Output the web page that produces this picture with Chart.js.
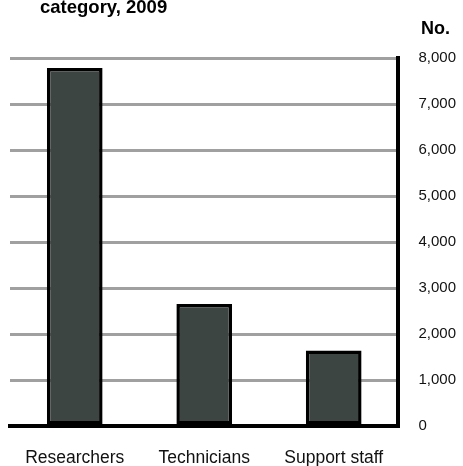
<!DOCTYPE html>
<html>
<head>
<meta charset="utf-8">
<script src="https://cdn.jsdelivr.net/npm/chart.js@4/dist/chart.umd.min.js"></script>
<style>
  html, body { margin: 0; padding: 0; background: #fff; }
  #wrap { width: 463px; height: 466px; }
</style>
</head>
<body>
<div id="wrap"><canvas id="staff-chart"></canvas></div>
<script>
    // Data
    var categories = ['Researchers', 'Technicians', 'Support staff'];
    var staffCounts = [7780, 2650, 1640];
    var yTicks = [0, 1000, 2000, 3000, 4000, 5000, 6000, 7000, 8000];
    var titleText = 'category, 2009';
    var unitText = 'No.';

    // Title (cut off at top in the source) and unit label
    var headerText = {
        id: 'headerText',
        afterDraw: function(chart) {
            var ctx = chart.ctx;
            ctx.save();
            ctx.fillStyle = '#000';
            ctx.textBaseline = 'alphabetic';
            ctx.textAlign = 'left';
            ctx.font = 'bold 18.5px "Liberation Sans", Arial, sans-serif';
            ctx.fillText(titleText, 40, 13);
            ctx.font = 'bold 18px "Liberation Sans", Arial, sans-serif';
            ctx.fillText(unitText, 421, 34);
            ctx.restore();
        }
    };

    var ctx = document.getElementById('staff-chart').getContext('2d');
    var chart = new Chart(ctx, {
        type: 'bar',
        data: {
            labels: categories,
            datasets: [{
                data: staffCounts,
                backgroundColor: '#3d4543',
                borderColor: '#000',
                borderWidth: 3.5,
                borderSkipped: false,
                barPercentage: 0.43,
                categoryPercentage: 1
            }]
        },
        options: {
            responsive: true,
            maintainAspectRatio: false,
            animation: false,
            layout: {
                padding: { top: 58, left: 10, right: -13, bottom: -25 }
            },
            plugins: {
                legend: { display: false },
                title: { display: false },
                tooltip: { enabled: false }
            },
            scales: {
                x: {
                    grid: { display: false, drawTicks: false },
                    border: { color: '#000', width: 4 },
                    ticks: {
                        color: '#111',
                        padding: 22,
                        font: { family: '"Liberation Sans", Arial, sans-serif', size: 17.5 }
                    }
                },
                y: {
                    position: 'right',
                    min: 0,
                    max: 8000,
                    afterBuildTicks: function(axis) {
                        axis.ticks = yTicks.map(function(v) { return { value: v }; });
                    },
                    grid: { color: '#a0a0a0', lineWidth: 3, drawTicks: false },
                    border: { color: '#000', width: 4 },
                    ticks: {
                        color: '#111',
                        padding: 20,
                        font: { family: '"Liberation Sans", Arial, sans-serif', size: 15 },
                        callback: function(v) { return v.toLocaleString('en-US'); }
                    }
                }
            }
        },
        plugins: [headerText]
    });
</script>
</body>
</html>
